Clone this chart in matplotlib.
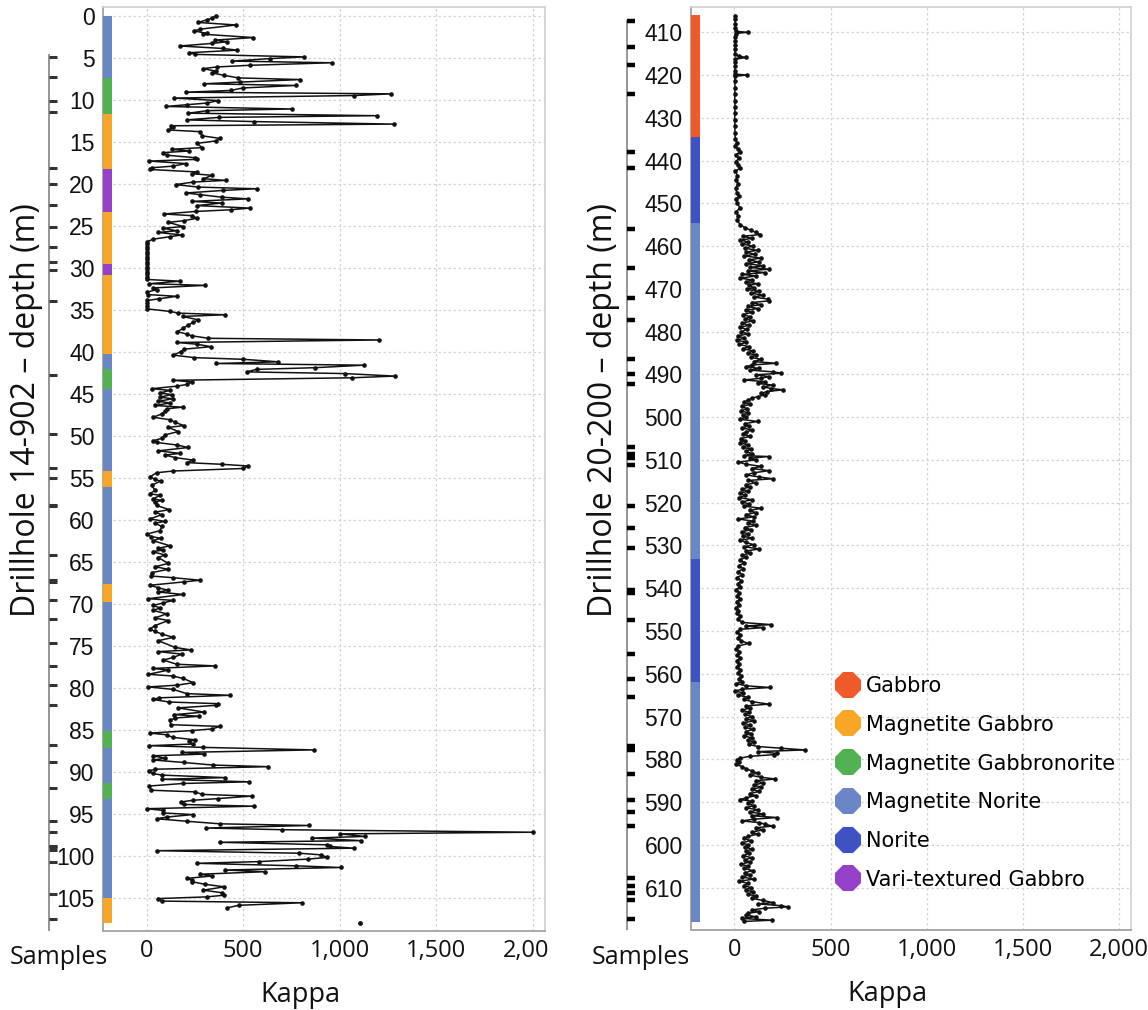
import matplotlib
matplotlib.use("Agg")
import matplotlib.pyplot as plt
from matplotlib.lines import Line2D
from matplotlib.transforms import Bbox, TransformedBbox

# ---------------- data ----------------
lith_names = ["Gabbro", "Magnetite Gabbro", "Magnetite Gabbronorite",
              "Magnetite Norite", "Norite", "Vari-textured Gabbro"]
lith_colors = ["#EE5A2A", "#F9A526", "#52B152", "#6B86C4", "#3F52C4", "#9440C8"]

# lithology intervals (top, bottom, name)
left_lith_top = [0.0, 7.4, 11.7, 18.2, 23.4, 29.6, 30.9, 40.3, 42.0, 44.4, 54.2, 56.1, 67.7, 69.8, 85.2, 87.2, 91.3, 93.3, 105.0]
left_lith_bot = [7.4, 11.7, 18.2, 23.4, 29.6, 30.9, 40.3, 42.0, 44.4, 54.2, 56.1, 67.7, 69.8, 85.2, 87.2, 91.3, 93.3, 105.0, 108.0]
left_lith = ["Magnetite Norite", "Magnetite Gabbronorite", "Magnetite Gabbro", "Vari-textured Gabbro",
             "Magnetite Gabbro", "Vari-textured Gabbro", "Magnetite Gabbro", "Magnetite Norite",
             "Magnetite Gabbronorite", "Magnetite Norite", "Magnetite Gabbro", "Magnetite Norite",
             "Magnetite Gabbro", "Magnetite Norite", "Magnetite Gabbronorite", "Magnetite Norite",
             "Magnetite Gabbronorite", "Magnetite Norite", "Magnetite Gabbro"]

right_lith_top = [406.0, 434.6, 454.6, 533.1, 561.8]
right_lith_bot = [434.6, 454.6, 533.1, 561.8, 618.0]
right_lith = ["Gabbro", "Norite", "Magnetite Norite", "Norite", "Magnetite Norite"]

left_depth = [0.0, 0.3, 0.5, 0.8, 1.1, 1.6, 1.8, 2.1, 2.2, 2.6, 2.9, 3.1, 3.3, 3.6, 3.9, 4.1, 4.4, 4.6, 4.9, 5.1,
              5.4, 5.6, 5.9, 6.1, 6.3, 6.6, 6.8, 7.1, 7.4, 7.6, 7.9, 8.1, 8.3, 8.6, 8.9, 9.1, 9.3, 9.5, 9.8, 10.1,
              10.4, 10.6, 10.8, 11.1, 11.3, 11.6, 11.9, 12.1, 12.4, 12.6, 12.9, 13.1, 13.3, 13.6, 13.8, 14.3, 14.6, 14.9, 15.2, 15.7,
              15.9, 16.1, 16.3, 16.6, 16.9, 17.1, 17.3, 17.6, 17.9, 18.1, 18.3, 18.6, 18.8, 19.0, 19.4, 19.6, 19.8, 20.1, 20.4, 20.6,
              20.8, 21.1, 21.3, 21.6, 21.8, 22.1, 22.3, 22.6, 22.9, 23.1, 23.3, 23.6, 23.8, 24.1, 24.4, 24.6, 25.1, 25.3, 25.6, 25.8,
              26.1, 26.3, 26.6, 26.9, 27.2, 27.5, 27.8, 28.1, 28.4, 28.7, 29.0, 29.3, 29.6, 29.9, 30.2, 30.5, 30.8, 31.1, 31.4, 31.6,
              31.9, 32.1, 32.4, 32.6, 32.9, 33.2, 33.4, 33.7, 33.9, 34.2, 34.5, 34.9, 35.2, 35.4, 35.6, 35.8, 36.2, 36.5, 36.8, 37.2,
              37.6, 37.9, 38.1, 38.4, 38.6, 38.9, 39.1, 39.4, 39.7, 40.0, 40.4, 40.7, 40.9, 41.2, 41.4, 41.6, 41.9, 42.1, 42.4, 42.6,
              42.9, 43.1, 43.4, 43.6, 43.9, 44.1, 44.4, 44.6, 44.9, 45.1, 45.4, 45.6, 45.9, 46.1, 46.4, 46.6, 46.8, 47.1, 47.4, 47.8,
              48.1, 48.4, 48.8, 49.0, 49.5, 49.9, 50.3, 50.6, 50.8, 51.1, 51.4, 51.8, 52.1, 52.3, 52.6, 52.9, 53.2, 53.4, 53.6, 53.9,
              54.2, 54.4, 54.9, 55.2, 55.4, 55.9, 56.5, 56.9, 57.1, 57.5, 57.7, 57.9, 58.3, 58.8, 59.1, 59.4, 59.9, 60.2, 60.4, 60.8,
              61.3, 61.7, 62.0, 62.2, 62.5, 63.1, 63.4, 63.6, 63.8, 64.2, 64.5, 65.2, 65.6, 65.9, 66.3, 66.7, 66.9, 67.2, 67.4, 67.8,
              68.1, 68.4, 68.6, 68.9, 69.4, 69.6, 69.9, 70.2, 70.5, 70.8, 71.2, 71.7, 72.0, 72.6, 73.0, 73.3, 73.6, 74.0, 74.4, 75.2,
              75.5, 75.7, 76.0, 76.4, 76.7, 77.2, 77.4, 77.7, 77.9, 78.4, 78.6, 78.9, 79.4, 79.7, 79.9, 80.2, 80.7, 80.9, 81.2, 81.4,
              81.7, 81.9, 82.1, 82.4, 82.9, 83.2, 83.4, 83.6, 83.9, 84.4, 84.6, 84.9, 85.1, 85.4, 85.6, 85.9, 86.2, 86.4, 86.7, 86.9,
              87.1, 87.4, 87.7, 87.9, 88.1, 88.4, 88.6, 88.9, 89.2, 89.4, 89.7, 89.9, 90.2, 90.4, 90.7, 90.9, 91.2, 91.4, 91.7, 92.2,
              92.4, 92.7, 92.9, 93.2, 93.4, 93.6, 93.9, 94.1, 94.4, 94.6, 94.9, 95.1, 95.4, 95.6, 95.9, 96.2, 96.4, 96.7, 96.9, 97.2,
              97.4, 97.7, 97.9, 98.2, 98.4, 98.7, 98.9, 99.1, 99.4, 99.7, 99.9, 100.2, 100.4, 100.7, 100.9, 101.2, 101.4, 101.7, 101.9, 102.2,
              102.4, 102.7, 102.9, 103.1, 103.4, 103.7, 104.1, 104.4, 104.7, 104.9, 105.1, 105.4, 105.6, 105.9, 106.2]
left_kappa = [357, 336, 310, 267, 462, 276, 245, 310, 293, 552, 353, 414, 336, 172, 397, 469, 221, 250, 815, 641,
              443, 957, 534, 362, 293, 359, 336, 402, 474, 796, 483, 297, 771, 497, 434, 202, 1267, 1074, 141, 371,
              310, 207, 100, 753, 314, 216, 1190, 376, 207, 557, 1279, 126, 138, 112, 276, 288, 379, 359, 259, 288,
              129, 221, 83, 103, 250, 259, 14, 202, 138, 26, 17, 259, 233, 340, 293, 409, 241, 150, 267, 569,
              393, 203, 276, 388, 526, 233, 388, 259, 534, 434, 253, 90, 233, 262, 193, 112, 190, 86, 155, 60,
              181, 121, 34, 3, 1, 0, 2, 1, 0, 2, 1, 0, 2, 1, 0, 1, 2, 0, 3, 172,
              14, 302, 34, 52, 3, 9, 155, 66, 3, 2, 3, 3, 121, 164, 405, 186, 267, 241, 216, 190,
              159, 207, 233, 319, 1203, 155, 259, 333, 193, 176, 138, 245, 500, 681, 357, 1124, 871, 569, 517, 1026,
              1284, 1064, 138, 233, 207, 155, 26, 121, 69, 129, 69, 134, 60, 121, 43, 186, 103, 95, 78, 34,
              121, 147, 193, 112, 164, 95, 78, 34, 52, 155, 216, 60, 172, 95, 147, 241, 207, 388, 526, 500,
              138, 52, 17, 43, 72, 26, 43, 17, 69, 34, 78, 43, 52, 117, 43, 78, 17, 95, 43, 78,
              69, 3, 22, 72, 34, 121, 60, 86, 31, 95, 60, 112, 43, 112, 26, 22, 138, 276, 193, 17,
              60, 112, 60, 190, 9, 138, 86, 34, 69, 34, 103, 43, 112, 43, 17, 43, 78, 138, 60, 147,
              229, 60, 181, 138, 86, 155, 353, 31, 112, 9, 134, 190, 241, 155, 9, 138, 207, 431, 66, 34,
              117, 371, 357, 164, 297, 143, 272, 147, 121, 124, 379, 340, 233, 17, 103, 134, 250, 221, 238, 12,
              293, 865, 181, 298, 34, 95, 34, 193, 341, 629, 43, 12, 31, 78, 405, 78, 531, 186, 14, 22,
              250, 288, 543, 367, 238, 176, 193, 555, 0, 83, 83, 238, 103, 52, 210, 379, 841, 307, 698, 2000,
              1000, 1129, 858, 1108, 379, 931, 948, 1074, 52, 790, 905, 934, 836, 581, 259, 772, 1005, 405, 615, 276,
              340, 207, 233, 236, 302, 402, 293, 388, 400, 310, 60, 78, 805, 478, 417]
left_extra_depth = [108.0]
left_extra_kappa = [1103]

left_samples = [4.9, 7.3, 10.2, 11.5, 18.1, 20.0, 22.5, 25.1, 27.5, 29.3, 30.3, 34.0, 42.8, 49.8, 53.8,
                55.0, 58.2, 58.4, 64.2, 67.2, 67.4, 69.6, 71.8, 74.7, 77.4, 79.7, 82.1, 86.8, 88.8, 91.9,
                95.9, 97.2, 98.8, 99.0, 99.3, 100.7, 104.6, 107.5]

right_depth = [406.2, 407.0, 408.0, 409.0, 409.8, 410.0, 410.3, 411.0, 412.0, 413.0, 414.0, 415.0, 415.6, 415.9, 416.3,
               417.0, 418.0, 419.0, 419.8, 420.0, 420.3, 421.5, 423.0, 424.5, 426.0, 427.5, 429.0, 430.5, 432.0, 433.5,
               435.0, 435.8, 436.5, 437.3, 438.0, 438.6, 439.5, 440.3, 441.0, 441.8, 442.5, 443.5, 444.5, 445.5, 446.5,
               447.5, 448.3, 449.0, 450.0, 451.0, 452.0, 453.0, 454.0, 455.0, 455.7, 456.3, 456.8, 457.3, 457.7, 458.2,
               458.6, 459.0, 459.5, 460.0, 460.5, 461.0, 461.4, 461.9, 462.3, 462.8, 463.2, 463.7, 464.1, 464.6, 465.0,
               465.4, 465.8, 466.2, 466.6, 467.0, 467.5, 467.9, 468.4, 468.8, 469.2, 469.7, 470.1, 470.6, 471.0, 471.5,
               471.9, 472.4, 472.8, 473.2, 473.7, 474.1, 474.6, 475.0, 475.5, 476.0, 476.5, 477.0, 477.5, 478.0, 478.5,
               479.0, 479.5, 480.0, 480.5, 481.0, 481.5, 482.0, 482.5, 483.0, 483.5, 484.0, 484.5, 485.0, 485.5, 486.0,
               486.5, 487.0, 487.4, 487.8, 488.2, 488.6, 489.0, 489.4, 489.7, 490.1, 490.5, 490.9, 491.3, 491.7, 492.1,
               492.5, 492.9, 493.3, 493.6, 494.0, 494.4, 494.8, 495.2, 495.6, 496.0, 496.5, 497.0, 497.5, 498.0, 498.5,
               499.0, 499.5, 500.0, 500.5, 501.0, 501.5, 502.0, 502.5, 503.0, 503.5, 504.0, 504.5, 505.0, 505.5, 506.0,
               506.5, 507.0, 507.5, 508.0, 508.5, 509.0, 509.2, 509.6, 510.0, 510.5, 511.0, 511.5, 512.0, 512.5, 513.0,
               513.5, 514.0, 514.4, 514.8, 515.3, 515.8, 516.3, 516.8, 517.3, 517.8, 518.3, 518.8, 519.3, 519.8, 520.3,
               520.8, 521.3, 521.8, 522.3, 522.8, 523.3, 523.8, 524.3, 524.8, 525.3, 525.8, 526.3, 526.8, 527.3, 527.8,
               528.3, 528.8, 529.3, 529.8, 530.3, 530.8, 531.3, 531.8, 532.3, 532.8, 533.3, 534.0, 534.7, 535.4, 536.1,
               536.8, 537.5, 538.2, 538.9, 539.6, 540.3, 541.0, 541.7, 542.4, 543.1, 543.8, 544.5, 545.2, 545.9, 546.6,
               547.3, 548.0, 548.5, 548.8, 549.2, 549.6, 550.2, 550.9, 551.6, 552.3, 552.9, 553.5, 554.2, 554.9, 555.6,
               556.3, 557.0, 557.7, 558.4, 559.1, 559.8, 560.5, 561.2, 561.8, 562.3, 562.8, 563.2, 563.6, 564.0, 564.5,
               565.0, 565.5, 566.0, 566.5, 567.1, 567.5, 568.0, 568.5, 569.0, 569.5, 570.0, 570.5, 571.0, 571.5, 572.0,
               572.5, 573.0, 573.5, 574.0, 574.5, 575.0, 575.5, 576.0, 576.5, 577.0, 577.4, 577.8, 578.2, 578.6, 578.9,
               579.3, 579.7, 580.2, 580.7, 581.2, 581.7, 582.2, 582.7, 583.2, 583.7, 584.2, 584.6, 585.0, 585.5, 586.0,
               586.5, 587.0, 587.5, 588.0, 588.5, 589.0, 589.4, 589.8, 590.3, 590.8, 591.3, 591.8, 592.3, 592.8, 593.2,
               593.6, 594.0, 594.4, 594.8, 595.2, 595.6, 596.0, 596.5, 597.0, 597.5, 598.0, 598.5, 599.0, 599.5, 600.0,
               600.5, 601.0, 601.5, 602.0, 602.5, 603.0, 603.5, 604.0, 604.5, 605.0, 605.5, 606.0, 606.5, 607.0, 607.5,
               608.0, 608.5, 609.0, 609.5, 610.0, 610.5, 611.0, 611.5, 612.0, 612.5, 613.0, 613.5, 613.8, 614.2, 614.5,
               614.8, 615.2, 615.6, 616.0, 616.4, 616.8, 617.2, 617.6, 617.9]
right_kappa = [3, 2, 4, 3, 8, 68, 6, 3, 2, 4, 3, 2, 22, 62, 5,
               2, 3, 2, 4, 64, 3, 2, 3, 1, 2, 3, 2, 1, 3, 2,
               5, 12, 4, 18, 30, 8, 22, 6, 20, 28, 5, 15, 8, 18, 6,
               12, 25, 8, 15, 28, 10, 18, 14, 30, 55, 85, 110, 135, 45, 90,
               30, 70, 40, 95, 55, 120, 60, 105, 50, 140, 75, 125, 60, 150, 80,
               178, 70, 160, 40, 110, 30, 90, 60, 120, 75, 100, 65, 130, 85, 150,
               100, 175, 181, 90, 140, 70, 120, 60, 90, 45, 80, 55, 95, 40, 75,
               30, 65, 35, 70, 20, 50, 15, 60, 25, 75, 45, 95, 70, 110, 85,
               140, 100, 218, 90, 60, 130, 80, 200, 242, 110, 180, 140, 50, 160, 120,
               200, 150, 190, 253, 170, 140, 160, 120, 90, 70, 50, 80, 40, 65, 35,
               70, 45, 60, 30, 120, 55, 75, 40, 90, 60, 45, 80, 35, 55, 30,
               70, 45, 85, 60, 90, 50, 178, 80, 110, 20, 60, 140, 90, 180, 100,
               60, 130, 200, 70, 110, 60, 80, 40, 70, 30, 55, 25, 90, 40, 75,
               50, 140, 80, 110, 60, 100, 20, 95, 70, 110, 55, 85, 40, 70, 45,
               90, 30, 60, 100, 50, 130, 60, 80, 40, 60, 30, 50, 25, 45, 20,
               40, 15, 35, 20, 30, 10, 25, 15, 30, 12, 25, 10, 20, 15, 30,
               20, 40, 192, 60, 150, 30, 15, 30, 20, 35, 73, 20, 10, 25, 15,
               30, 12, 25, 15, 30, 20, 35, 25, 40, 10, 60, 186, 40, 5, 45,
               20, 70, 50, 90, 178, 60, 80, 40, 75, 55, 90, 60, 100, 45, 80,
               55, 95, 60, 85, 50, 90, 70, 100, 75, 120, 240, 366, 120, 221, 204,
               80, 30, 12, 25, 10, 40, 60, 90, 120, 80, 140, 212, 110, 150, 100,
               140, 90, 130, 80, 110, 60, 30, 90, 70, 100, 60, 120, 80, 150, 90,
               221, 100, 40, 130, 160, 200, 110, 150, 90, 120, 70, 50, 85, 40, 70,
               55, 90, 60, 75, 45, 90, 55, 80, 35, 70, 50, 95, 55, 80, 40,
               100, 25, 70, 50, 85, 60, 95, 70, 110, 90, 150, 200, 120, 240, 279,
               160, 90, 130, 70, 60, 110, 40, 195, 50]

right_samples = [407.4, 413.4, 417.6, 424.5, 437.9, 441.8, 456.0, 465.2, 472.2, 477.3, 486.4, 490.0, 492.3,
                 506.9, 508.5, 509.6, 511.2, 520.7, 525.8, 530.5, 540.4, 541.2, 547.4, 555.4, 561.2, 565.5,
                 576.8, 577.3, 577.8, 583.5, 589.4, 592.4, 595.5, 607.7, 609.7, 611.2, 612.9, 617.3]

kappa_ticks = [0, 500, 1000, 1500, 2000]
kappa_labels = ["0", "500", "1,000", "1,500", "2,000"]
left_yticks = list(range(0, 110, 5))
right_yticks = list(range(410, 620, 10))

# ---------------- figure ----------------
W, H = 1148, 1010
fig = plt.figure(figsize=(W / 100, H / 100), dpi=100)
plt.rcParams["font.family"] = ["Liberation Sans", "DejaVu Sans"]


def fx(px):
    return px / W


def fy(py):
    return 1 - py / H


color_of = dict(zip(lith_names, lith_colors))


def make_panel(x0, x1, ytop, ybot, ylim, depth, kappa, lith_top, lith_bot, lith, yticks,
               sx, samples, samp_color, samp_lw, ylabel, ylab_x, ylab_y, samples_x, clip_right):
    ax = fig.add_axes([fx(x0), fy(ybot), fx(x1 - x0), (ybot - ytop) / H])
    ax.set_xlim(-226, 2062)
    ax.set_ylim(ylim[1], ylim[0])
    ax.set_xticks(kappa_ticks)
    ax.set_xticklabels(kappa_labels, fontfamily="Open Sans", fontsize=17, color="#111111")
    ax.set_yticks(yticks)
    ax.set_yticklabels([str(t) for t in yticks], fontsize=16.5, color="#111111")
    ax.tick_params(axis="both", length=0)
    ax.tick_params(axis="x", pad=6)
    ax.tick_params(axis="y", pad=6)
    ax.grid(True, color="#D4D4D4", linestyle=(0, (2, 2)), linewidth=0.9)
    for side in ["top", "right"]:
        ax.spines[side].set_color("#D0D0D0")
        ax.spines[side].set_linewidth(1.2)
    for side in ["left", "bottom"]:
        ax.spines[side].set_color("#A8A8A8")
        ax.spines[side].set_linewidth(1.4)
    # lithology strip
    for t, b, n in zip(lith_top, lith_bot, lith):
        ax.axhspan(t, b, xmin=0, xmax=0.021, color=color_of[n], lw=0, zorder=3)
    ax.plot(kappa, depth, color="#111111", lw=1.1, marker="o", ms=2.3, zorder=4)
    ax.set_xlabel("Kappa", fontfamily="Open Sans", fontsize=19.5, color="#111111")
    ax.xaxis.set_label_coords(0.446, -0.054)
    # clip the last x tick label like the reference
    if clip_right is not None:
        cb = TransformedBbox(Bbox([[0, 0], [fx(clip_right), 1]]), fig.transFigure)
        for lab in ax.get_xticklabels():
            lab.set_clip_box(cb)
            lab.set_clip_on(True)
    # samples track
    sax = fig.add_axes([fx(sx), fy(ybot), fx(14), (ybot - ytop) / H], sharey=ax)
    sax.set_xlim(0, 1)
    sax.axis("off")
    sax.vlines(0.05, min(samples) - 0.35, ylim[1], color="#8C8C8C", lw=1.3)
    sax.hlines(samples, 0.05, 0.65, color=samp_color, lw=samp_lw)
    fig.text(fx(samples_x), fy(958), "Samples", fontfamily="Open Sans", fontsize=18,
             color="#111111", ha="center", va="center")
    fig.text(fx(ylab_x), fy(ylab_y), ylabel, rotation=90, fontfamily="Open Sans", fontsize=23,
             color="#111111", ha="center", va="center")
    return ax


axL = make_panel(103, 545, 7, 931, (-1.04, 108.96), left_depth, left_kappa,
                 left_lith_top, left_lith_bot, left_lith, left_yticks,
                 48, left_samples, "#333333", 2.2, "Drillhole 14-902 \u2013 depth (m)", 27, 410, 59, 548)
axL.plot(left_extra_kappa, left_extra_depth, linestyle="none", color="#111111", marker="o", ms=2.5, zorder=4)

axR = make_panel(691, 1131, 7, 930, (404.1, 619.9), right_depth, right_kappa,
                 right_lith_top, right_lith_bot, right_lith, right_yticks,
                 626, right_samples, "#000000", 3.2, "Drillhole 20-200 \u2013 depth (m)", 603, 410, 641, None)

handles = [Line2D([], [], linestyle="none", marker="8", markersize=19.5, color=c, markeredgewidth=0)
           for c in lith_colors]
axR.legend(handles, lith_names, loc="upper left", bbox_to_anchor=(fx(838), fy(676)),
           bbox_transform=fig.transFigure, frameon=False, handlelength=1.0,
           handletextpad=0.35, labelspacing=0.9, borderaxespad=0, borderpad=0,
           prop={"family": "DejaVu Sans", "size": 15})

fig.savefig("out.png", dpi=100)
